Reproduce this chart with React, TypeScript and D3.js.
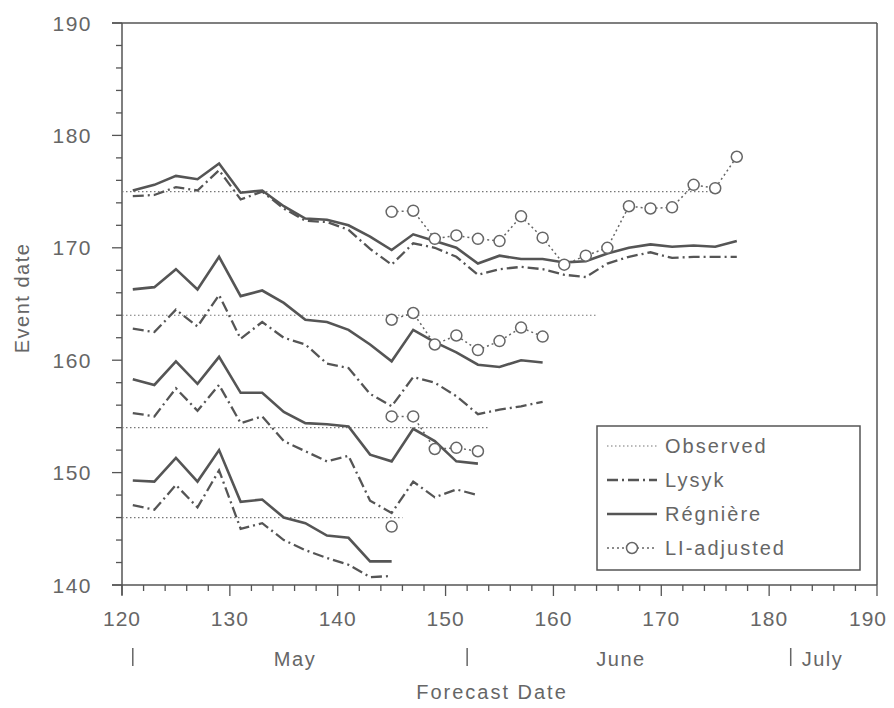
import React from "react";
import * as d3 from "d3";

// ---- data ----
const days1 = [121,123,125,127,129,131,133,135,137,139,141,143,145,147,149,151,153,155,157,159,161,163,165,167,169,171,173,175,177];
const days2 = [121,123,125,127,129,131,133,135,137,139,141,143,145,147,149,151,153,155,157,159];
const days3 = [121,123,125,127,129,131,133,135,137,139,141,143,145,147,149,151,153];
const days4 = [121,123,125,127,129,131,133,135,137,139,141,143,145];

const regniere1 = [175.1,175.6,176.4,176.1,177.5,174.9,175.1,173.7,172.6,172.5,172.0,171.0,169.8,171.2,170.6,170.0,168.6,169.3,169.0,169.0,168.7,168.8,169.5,170.0,170.3,170.1,170.2,170.1,170.6];
const lysyk1 = [174.6,174.7,175.4,175.1,176.9,174.3,175.0,173.5,172.4,172.3,171.6,169.9,168.5,170.4,170.0,169.2,167.6,168.1,168.3,168.1,167.6,167.4,168.6,169.2,169.6,169.1,169.2,169.2,169.2];
const regniere2 = [166.3,166.5,168.1,166.3,169.2,165.7,166.2,165.1,163.6,163.4,162.7,161.4,159.9,162.7,161.6,160.7,159.6,159.4,160.0,159.8];
const lysyk2 = [162.8,162.5,164.5,163.0,165.8,161.9,163.4,162.0,161.4,159.7,159.3,157.0,155.9,158.5,158.0,156.8,155.2,155.6,155.9,156.3];
const regniere3 = [158.3,157.8,159.9,157.9,160.3,157.1,157.1,155.4,154.4,154.3,154.1,151.6,151.0,153.9,152.8,151.0,150.8];
const lysyk3 = [155.3,155.0,157.5,155.5,157.8,154.4,155.0,152.8,151.9,151.0,151.5,147.5,146.4,149.2,147.8,148.5,148.0];
const regniere4 = [149.3,149.2,151.3,149.2,152.0,147.4,147.6,146.0,145.5,144.4,144.2,142.1,142.1];
const lysyk4 = [147.1,146.7,148.9,146.9,150.2,145.0,145.5,144.0,143.1,142.4,141.8,140.7,140.8];

const liDays1 = [145,147,149,151,153,155,157,159,161,163,165,167,169,171,173,175,177];
const li1 = [173.2,173.3,170.8,171.1,170.8,170.6,172.8,170.9,168.5,169.3,170.0,173.7,173.5,173.6,175.6,175.3,178.1];
const liDays2 = [145,147,149,151,153,155,157,159];
const li2 = [163.6,164.2,161.4,162.2,160.9,161.7,162.9,162.1];
const liDays3 = [145,147,149,151,153];
const li3 = [155.0,155.0,152.1,152.2,151.9];
const liDays4 = [145];
const li4 = [145.2];

const observedDates = [175, 164, 154, 146];

const xTickLabels = [120,130,140,150,160,170,180,190];
const yTickLabels = [140,150,160,170,180,190];
const monthNames = ["May", "June", "July"];
const monthStarts = [121, 152, 182];
const legendLabels = ["Observed", "Lysyk", "Régnière", "LI-adjusted"];

// ---- layout ----
const W = 894, H = 708;
const L = 122, R = 877, T = 23, B = 585;
const INK = "#555";
const FONT = "'Liberation Sans', 'DejaVu Sans', sans-serif";

export default function App() {
  const x = d3.scaleLinear().domain([120, 190]).range([L, R]);
  const y = d3.scaleLinear().domain([140, 190]).range([B, T]);
  const line = d3.line<[number, number]>().x(d => x(d[0])).y(d => y(d[1]));
  const zip = (ds: number[], vs: number[]) => ds.map((d, i) => [d, vs[i]] as [number, number]);

  const groups = [
    { days: days1, reg: regniere1, lys: lysyk1, liD: liDays1, li: li1 },
    { days: days2, reg: regniere2, lys: lysyk2, liD: liDays2, li: li2 },
    { days: days3, reg: regniere3, lys: lysyk3, liD: liDays3, li: li3 },
    { days: days4, reg: regniere4, lys: lysyk4, liD: liDays4, li: li4 },
  ];

  const xMinor = d3.range(120, 191, 2);
  const yMinor = d3.range(140, 191, 2);

  const dashDot = "11,4,2,4";
  const solidW = 2.6;

  const lgX = 597, lgY = 426, lgW = 263, lgH = 144;
  const lgRow = (i: number) => lgY + 20 + i * 34;

  return (
    <svg width={W} height={H} style={{ position: "absolute", left: 0, top: 0, background: "#fff" }} fontFamily={FONT}>
      {/* frame */}
      <line x1={L - 10} x2={R} y1={T} y2={T} stroke={INK} strokeWidth={1.5} />
      <line x1={R} x2={R} y1={T} y2={B} stroke={INK} strokeWidth={1.5} />
      <line x1={L} x2={L} y1={T} y2={B + 10} stroke={INK} strokeWidth={1.5} />
      <line x1={L - 10} x2={R} y1={B} y2={B} stroke={INK} strokeWidth={1.5} />
      {/* y ticks */}
      {yMinor.map(v => (
        <line key={"ym" + v} x1={L - (v % 10 === 0 ? 10 : 6)} x2={L} y1={y(v)} y2={y(v)} stroke={INK} strokeWidth={1.3} />
      ))}
      {yTickLabels.map(v => (
        <text key={"yl" + v} x={92} y={y(v)} dy="0.36em" textAnchor="end" fontSize={21} fill="#666" letterSpacing={1.5}>{v}</text>
      ))}
      {/* x ticks */}
      {xMinor.map(v => (
        <line key={"xm" + v} x1={x(v)} x2={x(v)} y1={B} y2={B + (v % 10 === 0 ? 11 : 6)} stroke={INK} strokeWidth={1.3} />
      ))}
      {xTickLabels.map(v => (
        <text key={"xl" + v} x={v === 190 ? x(v) - 9 : x(v)} y={626} textAnchor="middle" fontSize={21} fill="#666" letterSpacing={1}>{v}</text>
      ))}
      {/* month row */}
      {monthStarts.map((m, i) => (
        <line key={"mb" + i} x1={x(m)} x2={x(m)} y1={648} y2={666} stroke="#666" strokeWidth={1.5} />
      ))}
      <text x={295} y={666} textAnchor="middle" fontSize={20} fill="#666" letterSpacing={1.5}>{monthNames[0]}</text>
      <text x={621} y={666} textAnchor="middle" fontSize={20} fill="#666" letterSpacing={1.5}>{monthNames[1]}</text>
      <text x={x(monthStarts[2]) + 11} y={666} textAnchor="start" fontSize={20} fill="#666" letterSpacing={1.5}>{monthNames[2]}</text>
      <text x={492} y={699} textAnchor="middle" fontSize={20} fill="#666" letterSpacing={2}>Forecast Date</text>
      <text transform={`translate(29,298) rotate(-90)`} textAnchor="middle" fontSize={20} fill="#666" letterSpacing={1.5}>Event date</text>

      {/* observed lines */}
      {observedDates.map((o, i) => (
        <line key={"ob" + i} x1={x(120)} x2={x(o)} y1={y(o)} y2={y(o)} stroke="#777" strokeWidth={1.2} strokeDasharray="1.5,2.5" />
      ))}
      {/* model lines */}
      {groups.map((g, i) => (
        <g key={"g" + i}>
          <path d={line(zip(g.days, g.lys)) || ""} fill="none" stroke={INK} strokeWidth={2.3} strokeDasharray={dashDot} />
          <path d={line(zip(g.days, g.reg)) || ""} fill="none" stroke={INK} strokeWidth={solidW} />
          <path d={line(zip(g.liD, g.li)) || ""} fill="none" stroke="#666" strokeWidth={1.5} strokeDasharray="2,3" />
          {g.liD.map((d, j) => (
            <circle key={j} cx={x(d)} cy={y(g.li[j])} r={5.5} fill="#fff" stroke="#666" strokeWidth={1.5} />
          ))}
        </g>
      ))}

      {/* legend */}
      <rect x={lgX} y={lgY} width={lgW} height={lgH} fill="#fff" stroke={INK} strokeWidth={1.5} />
      {legendLabels.map((lab, i) => {
        const yy = lgRow(i);
        return (
          <g key={"lg" + i}>
            {i === 0 && <line x1={607} x2={657} y1={yy} y2={yy} stroke="#777" strokeWidth={1.2} strokeDasharray="1.5,2.5" />}
            {i === 1 && <line x1={607} x2={657} y1={yy} y2={yy} stroke={INK} strokeWidth={2.3} strokeDasharray={dashDot} />}
            {i === 2 && <line x1={607} x2={657} y1={yy} y2={yy} stroke={INK} strokeWidth={solidW} />}
            {i === 3 && (
              <g>
                <line x1={607} x2={657} y1={yy} y2={yy} stroke="#666" strokeWidth={1.5} strokeDasharray="2,3" />
                <circle cx={632} cy={yy} r={5.5} fill="#fff" stroke="#666" strokeWidth={1.5} />
              </g>
            )}
            <text x={665} y={yy} dy="0.36em" fontSize={20} fill="#666" letterSpacing={2}>{lab}</text>
          </g>
        );
      })}
    </svg>
  );
}
